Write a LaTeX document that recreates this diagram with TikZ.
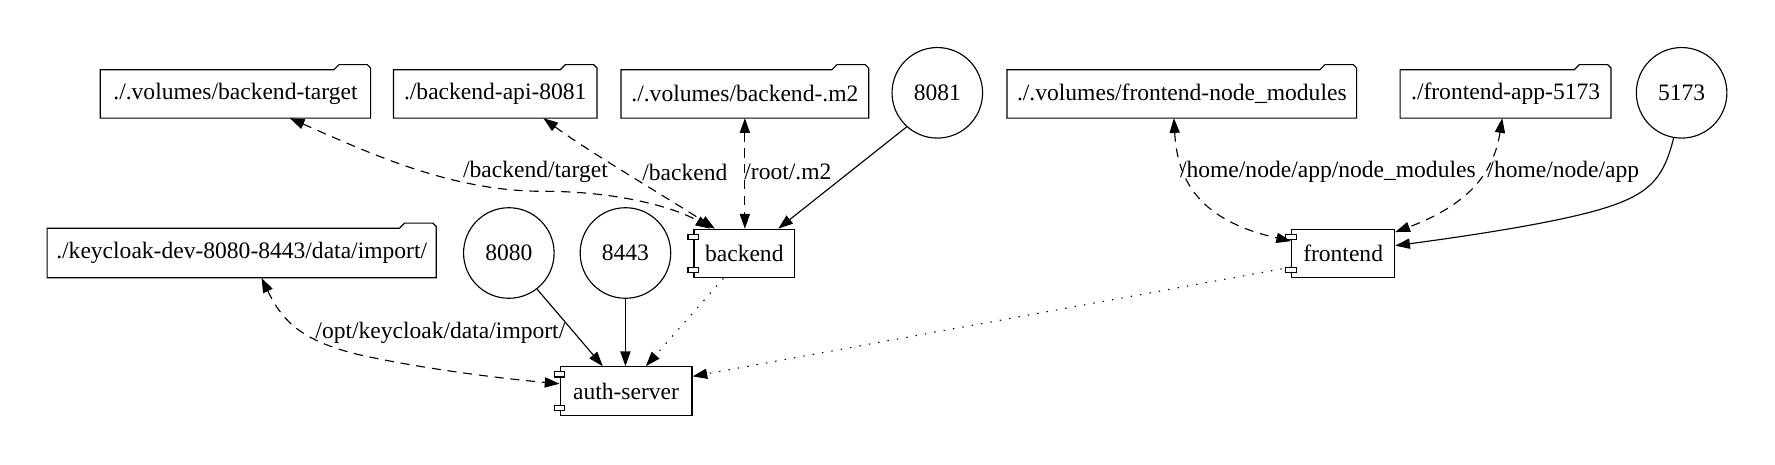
\documentclass[tikz,border=0pt]{standalone}
\usepackage{fontspec}
\setmainfont{Liberation Serif}
\usetikzlibrary{arrows.meta,calc}
\begin{document}
\begin{tikzpicture}[x=0.5pt,y=-0.5pt,
  every node/.style={font=\fontsize{10.4}{12}\selectfont,inner sep=0pt},
  lw/.style={line width=0.5pt},
  folderbox/.style={rectangle,minimum height=21pt},
  comp/.style={draw,lw,rectangle,minimum height=21.5pt},
  port/.style={draw,lw,circle,minimum size=40pt},
  tip/.tip={Triangle[length=6.5pt,width=4.5pt]},
  pub/.style={lw,-tip},
  vol/.style={lw,dash pattern=on 4pt off 3pt,tip-tip},
  dep/.style={lw,dash pattern=on 0.6pt off 3.6pt,-tip},
  lbl/.style={fill=none}
]
\useasboundingbox (0,0) rectangle (1568,410);

% folders
\node[folderbox,minimum width=119pt] (bt) at (208,83) {./.volumes/backend-target};
\node[folderbox,minimum width=89.5pt] (ba) at (437.5,83) {./backend-api-8081};
\node[folderbox,minimum width=109pt] (bm) at (658,83) {./.volumes/backend-.m2};
\node[folderbox,minimum width=154pt] (fn) at (1044,83) {./.volumes/frontend-node\_modules};
\node[folderbox,minimum width=92.75pt] (fa) at (1330,83) {./frontend-app-5173};
\node[folderbox,minimum width=171.5pt,minimum height=21.5pt] (kc) at (213.5,223.5) {./keycloak-dev-8080-8443/data/import/};
\foreach \n in {bt,ba,bm,fn,fa,kc}
  \draw[lw] (\n.south west) -- (\n.north west) -- ($(\n.north east)+(-32.5,0)$)
    -- ++(4.5,-4.5) -- ++(25,0) -- ++(3,3) -- (\n.south east) -- cycle;

% ports
\node[port] (p8081) at (828,82) {8081};
\node[port] (p5173) at (1485.5,82) {5173};
\node[port] (p8080) at (449.5,223.5) {8080};
\node[port] (p8443) at (552.5,223.5) {8443};

% components
\node[comp,minimum width=44.5pt] (be) at (657.5,224) {backend};
\node[comp,minimum width=45.5pt] (fe) at (1186.5,224) {frontend};
\node[comp,minimum width=58.25pt] (au) at (553,345.5) {auth-server};
\foreach \n in {be,fe,au}{
  \draw[lw,fill=white] ($(\n.north west)+(-4.75,5)$) rectangle ++(9.5,4.5);
  \draw[lw,fill=white] ($(\n.south west)+(-4.75,-9.5)$) rectangle ++(9.5,4.5);
}

% volume edges
\draw[vol] ($(bt.south)+(48,0)$) .. controls (330,137) and (400,169) .. (480,169)
  .. controls (550,169) and (600,185) .. ($(be.north west)+(15,0)$);
\draw[vol] ($(ba.south)+(42.5,0)$) .. controls (520,134) and (590,175) .. ($(be.north west)+(19,0)$);
\draw[vol] (bm.south) -- (bm.south |- be.north);
\draw[vol] ($(fn.south)+(-7,0)$) .. controls (1040,160) and (1060,195) .. ($(fe.north west)+(0,11)$);
\draw[vol] ($(fa.south)+(-3,0)$) .. controls (1320,150) and (1300,180) .. ($(fe.north east)+(0,3)$);
\draw[vol] ($(kc.south)+(17.5,0)$) .. controls (250,285) and (268,302) .. (320,314)
  .. controls (380,327) and (450,335) .. ($(au.west)+(0,-6.5)$);

% port edges
\draw[pub] (p8081.228) -- ($(be.north east)+(-15,0)$);
\draw[pub] (p5173.260) .. controls (1470,155) and (1460,170) .. (1420,183)
  .. controls (1380,196) and (1300,208) .. ($(fe.east)+(0,-7)$);
\draw[pub] (p8080.-52) -- ($(au.north)+(-20.5,0)$);
\draw[pub] (p8443.south) -- (p8443.south |- au.north);

% dependency edges
\draw[dep] ($(be.south)+(-18.5,0)$) -- ($(au.north)+(17.5,0)$);
\draw[dep] ($(fe.south west)+(0,-10)$) -- ($(au.east)+(0,-13)$);

% labels
\node[lbl] (lbt) at (473,152) {/backend/target};
\node[lbl] (lba) at (605,152) {/backend};
\node[lbl] (lbm) at (696,152) {/root/.m2};
\node[lbl] (lfn) at (1173,152) {/home/node/app/node\_modules};
\node[lbl] (lfa) at (1381,152) {/home/node/app};
\node[lbl] (lkc) at (389,294) {/opt/keycloak/data/import/};
\end{tikzpicture}
\end{document}
